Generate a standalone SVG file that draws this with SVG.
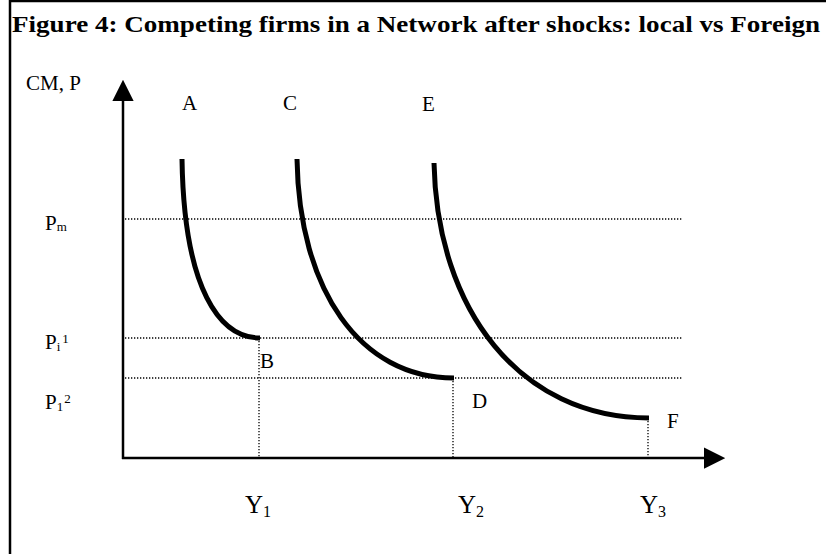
<svg xmlns="http://www.w3.org/2000/svg" width="826" height="554" viewBox="0 0 826 554">
<style>
text{font-family:"Liberation Serif","Times New Roman",serif;fill:#000}
.lbl{font-size:21px}
.yl{font-size:25px}
.dot{stroke:#000;stroke-width:1.3;stroke-dasharray:1.3 1.7;fill:none}
.curve{stroke:#000;stroke-width:5;fill:none}
.axis{stroke:#000;stroke-width:2.5;fill:none}
</style>
<defs>
<marker id="arr" viewBox="0 0 10 10" refX="0" refY="5" markerWidth="8.5" markerHeight="8.5" markerUnits="strokeWidth" orient="auto">
<path d="M0,0 L10,5 L0,10 z" fill="#000"/>
</marker>
</defs>
<rect width="826" height="554" fill="#fff"/>
<g id="frame">
<line x1="9" y1="1" x2="826" y2="1" stroke="#000" stroke-width="2.5"/>
<line x1="10" y1="0" x2="10" y2="554" stroke="#000" stroke-width="2.5"/>
</g>
<g id="title"><text x="12" y="32" font-size="23" font-weight="bold" textLength="808" lengthAdjust="spacingAndGlyphs">Figure 4: Competing firms in a Network after shocks: local vs Foreign</text></g>
<g id="connectors">
<line class="axis" x1="123" y1="459" x2="123" y2="101" marker-end="url(#arr)"/>
<line class="axis" x1="122" y1="458" x2="704" y2="458" marker-end="url(#arr)"/>
<line class="dot" x1="125" y1="219" x2="683" y2="219"/>
<line class="dot" x1="125" y1="338" x2="683" y2="338"/>
<line class="dot" x1="125" y1="378" x2="683" y2="378"/>
<line class="dot" x1="259" y1="338" x2="259" y2="457"/>
<line class="dot" x1="453" y1="378" x2="453" y2="457"/>
<line class="dot" x1="648" y1="418" x2="648" y2="457"/>
</g>
<g id="curveAB"><path class="curve" d="M182,159 C184,290 220,338 260,338"/></g>
<g id="curveCD"><path class="curve" d="M297,159 C299,290 360,378 454,378"/></g>
<g id="curveEF"><path class="curve" d="M434,163 C437,310 520,418 649,418"/></g>
<g id="labels">
<text class="lbl" x="26" y="90">CM, P</text>
<text class="lbl" x="182" y="110">A</text>
<text class="lbl" x="283" y="110">C</text>
<text class="lbl" x="422" y="111">E</text>
<text class="lbl" x="260" y="368">B</text>
<text class="lbl" x="472" y="408">D</text>
<text class="lbl" x="667" y="428">F</text>
<text class="lbl" x="45" y="230">P<tspan font-size="13" dy="1">m</tspan></text>
<text class="lbl" x="45" y="349">P<tspan font-size="13" dy="2">i</tspan><tspan font-size="13" dx="2" dy="-8">1</tspan></text>
<text class="lbl" x="45" y="409">P<tspan font-size="13" dy="2">1</tspan><tspan font-size="13" dx="1" dy="-8">2</tspan></text>
<text class="yl" x="245" y="513">Y<tspan font-size="16" dy="4">1</tspan></text>
<text class="yl" x="458" y="513">Y<tspan font-size="16" dy="4">2</tspan></text>
<text class="yl" x="640" y="513">Y<tspan font-size="16" dy="4">3</tspan></text>
</g>
</svg>
